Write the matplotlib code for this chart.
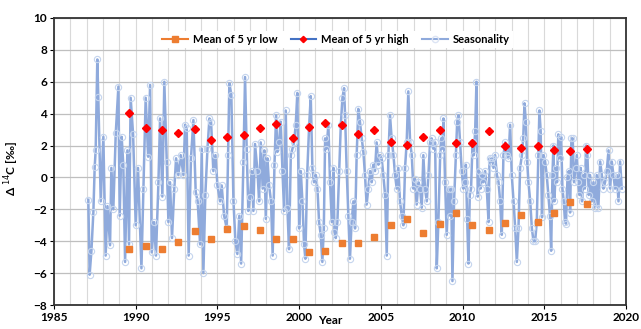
import numpy as np
import matplotlib
matplotlib.use("Agg")
import matplotlib.pyplot as plt
from matplotlib.lines import Line2D
from matplotlib.ticker import MultipleLocator

plt.rcParams['font.family'] = ['Lato', 'DejaVu Sans']

# seasonality series (decimal year, value in permil)
seas_year = [1987.10, 1987.18, 1987.29, 1987.41, 1987.49, 1987.55, 1987.65, 1987.71, 1987.86, 1988.02,
             1988.16, 1988.27, 1988.43, 1988.51, 1988.63, 1988.78, 1988.94, 1989.02, 1989.14, 1989.24,
             1989.35, 1989.49, 1989.59, 1989.69, 1989.84, 1990.00, 1990.14, 1990.35, 1990.47, 1990.61,
             1990.76, 1990.88, 1990.98, 1991.12, 1991.24, 1991.39, 1991.49, 1991.63, 1991.75, 1991.90,
             1992.00, 1992.10, 1992.22, 1992.36, 1992.47, 1992.61, 1992.75, 1992.92, 1993.02, 1993.12,
             1993.24, 1993.38, 1993.53, 1993.67, 1993.79, 1993.94, 1994.04, 1994.14, 1994.26, 1994.39,
             1994.51, 1994.61, 1994.75, 1994.88, 1995.00, 1995.16, 1995.26, 1995.41, 1995.57, 1995.65,
             1995.73, 1995.85, 1995.98, 1996.10, 1996.22, 1996.34, 1996.45, 1996.59, 1996.69, 1996.79,
             1996.89, 1997.00, 1997.10, 1997.20, 1997.30, 1997.45, 1997.55, 1997.65, 1997.77, 1997.87,
             1997.96, 1998.06, 1998.16, 1998.28, 1998.38, 1998.49, 1998.59, 1998.67, 1998.77, 1998.87,
             1998.98, 1999.08, 1999.18, 1999.28, 1999.38, 1999.49, 1999.59, 1999.69, 1999.79, 1999.89,
             2000.00, 2000.10, 2000.20, 2000.30, 2000.38, 2000.49, 2000.61, 2000.71, 2000.81, 2000.91,
             2001.02, 2001.12, 2001.22, 2001.32, 2001.42, 2001.51, 2001.59, 2001.67, 2001.79, 2001.89,
             2002.00, 2002.10, 2002.16, 2002.24, 2002.34, 2002.45, 2002.55, 2002.65, 2002.75, 2002.81,
             2002.91, 2003.01, 2003.11, 2003.21, 2003.32, 2003.42, 2003.52, 2003.62, 2003.72, 2003.83,
             2003.93, 2004.03, 2004.13, 2004.23, 2004.34, 2004.44, 2004.54, 2004.64, 2004.74, 2004.85,
             2004.95, 2005.05, 2005.15, 2005.26, 2005.36, 2005.46, 2005.56, 2005.66, 2005.77, 2005.87,
             2005.97, 2006.07, 2006.17, 2006.28, 2006.38, 2006.48, 2006.58, 2006.68, 2006.79, 2006.89,
             2006.99, 2007.09, 2007.19, 2007.30, 2007.40, 2007.50, 2007.60, 2007.70, 2007.81, 2007.91,
             2008.01, 2008.11, 2008.21, 2008.32, 2008.42, 2008.52, 2008.63, 2008.69, 2008.77, 2008.83,
             2008.93, 2009.03, 2009.14, 2009.24, 2009.30, 2009.38, 2009.48, 2009.59, 2009.67, 2009.75,
             2009.85, 2009.95, 2010.05, 2010.12, 2010.20, 2010.28, 2010.36, 2010.44, 2010.52, 2010.61,
             2010.69, 2010.77, 2010.85, 2010.93, 2011.01, 2011.10, 2011.18, 2011.28, 2011.38, 2011.48,
             2011.59, 2011.65, 2011.73, 2011.81, 2011.89, 2011.99, 2012.10, 2012.20, 2012.30, 2012.40,
             2012.50, 2012.61, 2012.71, 2012.81, 2012.91, 2013.01, 2013.12, 2013.22, 2013.32, 2013.42,
             2013.52, 2013.63, 2013.71, 2013.79, 2013.87, 2013.95, 2014.03, 2014.14, 2014.24, 2014.34,
             2014.44, 2014.54, 2014.64, 2014.70, 2014.78, 2014.86, 2014.95, 2015.05, 2015.15, 2015.25,
             2015.35, 2015.42, 2015.50, 2015.56, 2015.62, 2015.70, 2015.78, 2015.86, 2015.95, 2016.03,
             2016.11, 2016.19, 2016.27, 2016.33, 2016.42, 2016.50, 2016.58, 2016.66, 2016.74, 2016.82,
             2016.91, 2016.99, 2017.07, 2017.15, 2017.23, 2017.31, 2017.40, 2017.48, 2017.56, 2017.64,
             2017.72, 2017.80, 2017.91, 2018.01, 2018.11, 2018.21, 2018.31, 2018.42, 2018.52, 2018.62,
             2018.72, 2018.82, 2018.93, 2019.03, 2019.13, 2019.23, 2019.33, 2019.44, 2019.54, 2019.64,
             2019.74]
seas_val = [-1.4, -6.1, -4.6, -2.15, 0.67, 1.7, 7.4, 5.06, -1.5, 2.55,
            -4.9, -1.8, -4.25, 0.6, -2.0, 2.8, 5.7, -2.4, 2.55, 0.8,
            -5.3, 1.7, -4.2, 5.0, 2.7, -3.0, 0.6, -5.7, -0.7, 5.0,
            1.3, 5.8, -4.7, -2.8, -4.9, -0.3, 3.7, -1.2, 6.0, 1.0,
            -2.8, -0.3, -3.8, -0.7, 1.2, 0.15, 1.4, 0.15, 3.3, 3.1,
            -4.9, 1.2, 3.6, -0.9, -1.5, -4.2, 1.8, -6.0, -1.1, 1.8,
            3.7, 3.5, 0.4, 1.4, -0.5, -1.5, -0.5, -2.4, -3.2, 1.4,
            5.9, 5.2, -1.5, -4.0, -4.8, -2.4, -5.4, 1.0, 6.3, 1.8,
            -2.1, -1.2, 0.4, -2.1, 2.1, 0.4, -1.5, 2.2, -0.7, 1.7,
            -2.6, 1.2, -0.5, -1.5, -4.9, 0.8, 3.9, 1.6, 2.2, 3.5,
            0.4, -2.1, 4.2, -1.9, -4.5, 1.4, 1.8, 2.2, 3.3, 5.3,
            -3.2, 0.4, -1.5, -4.2, -5.1, 0.15, 3.2, 5.1, 0.6, -0.3,
            0.15, -0.7, -2.8, -3.6, -5.3, -3.2, 2.45, 1.8, 3.3, -0.3,
            -2.8, 0.6, -3.4, -3.8, -2.8, 0.4, 3.3, 5.0, 5.6, 3.9,
            0.4, -2.4, -5.1, -2.8, -1.5, -3.2, 1.4, 4.3, 3.5, 2.45,
            1.6, 0.15, -1.7, -0.7, 0.4, -0.3, 0.8, 0.4, 2.2, 0.8,
            1.4, 1.2, 0.15, -1.1, -4.9, 1.4, 3.9, 2.45, 1.4, 0.15,
            -0.7, 0.6, -1.5, -2.4, -3.0, 0.6, 2.2, 5.4, 2.2, 1.4,
            -0.7, -0.1, -1.7, -0.3, -0.7, -1.9, 1.4, -0.7, -1.5, 0.15,
            2.2, 2.45, 1.8, 2.2, -5.7, -2.8, 1.4, 2.45, 1.8, 3.7,
            -0.3, -3.6, -0.7, -2.4, -0.7, -6.5, -1.5, 1.4, 3.5, 3.9,
            2.2, 0.4, -0.7, -0.3, 0.8, -2.6, -5.4, -1.1, -0.7, 2.2,
            1.4, 2.9, 6.0, -1.2, 0.4, -0.7, 0.15, -0.3, 0.4, -0.7,
            -2.8, 1.2, 1.0, 1.2, 0.6, 1.4, 0.15, -0.3, -1.5, -3.6,
            1.4, 2.2, 1.4, 1.2, 3.3, 0.15, -1.5, -3.2, -5.3, -3.2,
            0.6, 1.4, 2.45, 4.65, 3.5, 1.0, -0.3, -1.5, -3.2, -4.0,
            -4.0, -2.8, 1.4, 4.2, 2.9, -2.5, 1.4, 1.0, 0.15, -1.1,
            -2.4, -4.6, 0.15, 2.0, -1.5, 0.6, -0.3, 2.7, 1.2, 2.55,
            -0.7, -1.5, -2.8, -2.9, 0.0, 0.4, -2.2, 2.45, 2.45, -0.3,
            0.6, 1.4, -0.3, -1.1, 0.6, -1.5, 0.15, -0.7, 2.0, 1.4,
            -1.1, 0.15, -1.5, -0.3, -1.9, 0.15, -1.9, 1.0, 0.15, -0.7,
            -0.3, 0.4, 1.7, -0.7, 1.0, 0.15, -0.7, 0.15, -1.5, 1.0,
            -0.7]

# 5-year means, one per year 1989..2017
mean_year = list(range(1989, 2018))
mean_high = [4.06, 3.08, 2.97, 2.76, 3.04, 2.35, 2.55, 2.66, 3.12, 3.33,
             2.45, 3.14, 3.43, 3.29, 2.72, 2.97, 2.20, 2.05, 2.55, 3.00,
             2.14, 2.14, 2.91, 1.97, 1.82, 1.99, 1.72, 1.68, 1.76]
mean_low = [-4.50, -4.30, -4.50, -4.04, -3.37, -3.87, -3.22, -3.03, -3.30, -3.83,
            -3.83, -4.70, -4.60, -4.14, -4.14, -3.72, -3.00, -2.60, -3.50, -2.93,
            -2.22, -3.00, -3.30, -2.84, -2.36, -2.78, -2.26, -1.57, -1.67]

fig = plt.figure(figsize=(6.41, 3.29), dpi=100)
ax = fig.add_axes([54 / 641, 24 / 329, 572 / 641, 287 / 329])

ax.plot(seas_year, seas_val, color='#8FAADC', lw=1.8, marker='o', ms=4.5,
        mfc='none', mec='#C5D5EE', mew=0.8, zorder=2)

mx = np.array(mean_year) + 0.6
ax.plot(mx, mean_low, ls='none', marker='s', ms=4.8, color='#ED7D31', zorder=3)
ax.plot(mx, mean_high, ls='none', marker='D', ms=4.0, color='#FF0000', zorder=3)

ax.set_xlim(1985, 2020)
ax.set_ylim(-8, 10)
ax.xaxis.set_major_locator(MultipleLocator(5))
ax.xaxis.set_minor_locator(MultipleLocator(1))
ax.yaxis.set_major_locator(MultipleLocator(2))
ax.grid(which='minor', axis='x', color='#D9D9D9', lw=0.8)
ax.grid(which='major', axis='x', color='#D9D9D9', lw=0.8)
ax.grid(which='major', axis='y', color='#BFBFBF', lw=0.9)
ax.set_axisbelow(True)
ax.tick_params(which='minor', length=0)
ax.tick_params(which='major', length=3, direction='out', labelsize=8.5, pad=2)
for lab in ax.get_xticklabels() + ax.get_yticklabels():
    lab.set_fontweight('bold')
for s in ax.spines.values():
    s.set_linewidth(1.3)
    s.set_color('#333333')

ax.set_ylabel('Δ $^{14}$C [‰]', fontsize=8.5, fontweight='bold')
ax.yaxis.set_label_coords(-0.058, 0.474)
ax.set_xlabel('Year', fontsize=8.5, fontweight='bold')
ax.xaxis.set_label_coords(0.483, -0.036)

handles = [
    Line2D([], [], color='#ED7D31', lw=1.5, marker='s', ms=4.5),
    Line2D([], [], color='#4472C4', lw=1.5, marker='D', ms=3.2, mfc='#FF0000', mec='#FF0000'),
    Line2D([], [], color='#8FAADC', lw=1.5, marker='o', ms=4.5, mfc='none', mec='#DCE4F4'),
]
leg = ax.legend(handles, ['Mean of 5 yr low', 'Mean of 5 yr high', 'Seasonality'],
                loc='upper center', bbox_to_anchor=(0.493, 0.975), ncol=3,
                frameon=True, fancybox=False, framealpha=1, edgecolor='none',
                facecolor='white', handlelength=2.3, columnspacing=1.2,
                handletextpad=0.45, borderpad=0.3,
                prop={'size': 8, 'weight': 'bold'})

fig.savefig('out.png', dpi=100)
